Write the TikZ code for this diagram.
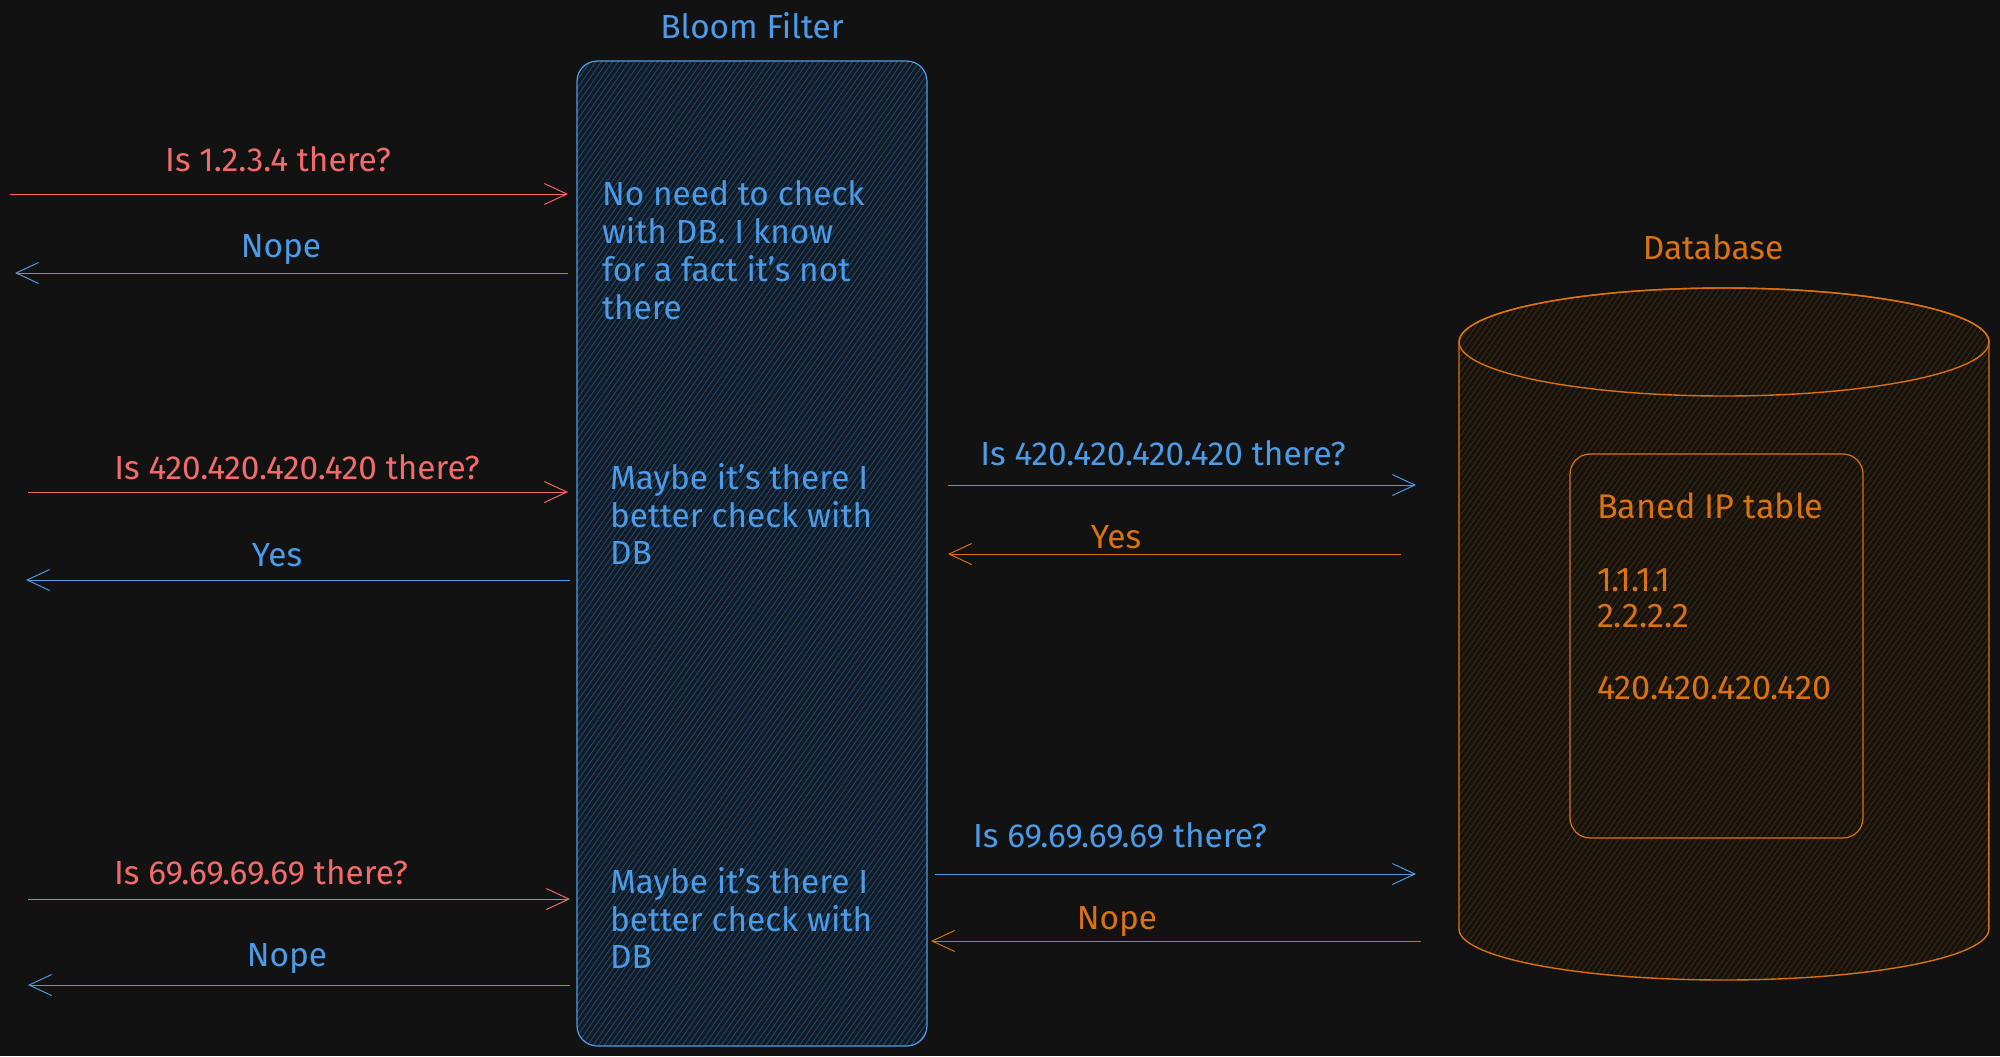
\documentclass[tikz,border=0pt]{standalone}
\usepackage{fontspec}
\setmainfont{Fira Sans}
\usetikzlibrary{positioning}
\usetikzlibrary{arrows.meta,patterns.meta,calc}
\definecolor{bgcol}{HTML}{121212}
\definecolor{sblue}{HTML}{4C9BE8}
\definecolor{sred}{HTML}{F26B6B}
\definecolor{sorange}{HTML}{D9720F}
\definecolor{bfill}{HTML}{131B24}
\definecolor{bhatch}{HTML}{1F4A73}
\definecolor{dfill}{HTML}{16120D}
\definecolor{dhatch}{HTML}{3D2A12}
\tikzset{
    %Define standard arrow tip
    >={Straight Barb[length=0.45cm,width=0.42cm]},
    % Define sketchy arrow style
    pil/.style={
           ->,
           line width=0.55pt,
           double=bgcol,
           double distance=0.7pt,}
}
\newcommand{\txtsize}{\fontsize{19}{21.6}\selectfont}

\begin{document}
\begin{tikzpicture}[x=0.02cm, y=-0.02cm, outer sep=0pt]
\tikzstyle{lbl}=[font=\txtsize, inner sep=0pt]
\tikzstyle{note}=[font=\txtsize, inner sep=0pt, anchor=west, align=left, text=sblue]
\tikzstyle{bloombox}=[draw=sblue, line width=0.7pt, rounded corners=0.4cm, minimum width=7cm, minimum height=19.7cm, preaction={fill=bfill}, pattern={Lines[angle=55,distance=2.6pt,line width=0.5pt]}, pattern color=bhatch]
\tikzstyle{tablebox}=[draw=sorange, line width=0.7pt, rounded corners=0.4cm, minimum width=5.86cm, minimum height=7.68cm, preaction={fill=dfill}, pattern={Lines[angle=55,distance=2.6pt,line width=0.5pt]}, pattern color=dhatch]

\useasboundingbox (0,0) rectangle (2000,1056);
\fill[bgcol] (0,0) rectangle (2000,1056);

% bloom filter
\node[bloombox] (bloom) at (752,553.5) {};
\node[lbl,sblue] (bloomname) [above = 0.45cm of bloom] {Bloom Filter};

\node[note] (note1) at (602,250) {No need to check\\with DB. I know\\for a fact it's not\\there};
\node[note] (note2) at (610,514) {Maybe it's there I\\better check with\\DB};
\node[note] (note3) at (610,918) {Maybe it's there I\\better check with\\DB};

% database
\path[draw=sorange, line width=0.8pt, preaction={fill=dfill}, pattern={Lines[angle=55,distance=2.6pt,line width=0.5pt]}, pattern color=dhatch]
    (1459,342) -- (1459,929) arc[start angle=180, end angle=360, x radius=5.3cm, y radius=1.02cm]
    -- (1989,342) arc[start angle=0, end angle=180, x radius=5.3cm, y radius=1.08cm] -- cycle;
\draw[sorange, line width=0.8pt] (1724,342) ellipse [x radius=5.3cm, y radius=1.08cm];
\node[lbl,sorange] (dbname) at (1713,247) {Database};

\node[tablebox] (iptable) at (1716.5,646) {};
\node[note,text=sorange,font=\fontsize{19.5}{20.6}\selectfont] (iplist) at (1597,596.5) {Baned IP table\\ \strut\\ 1.1.1.1\\ 2.2.2.2\\ \strut\\ 420.420.420.420};

% arrow ends
\coordinate (c1a) at (10,194);   \coordinate (c1b) at (568,194);
\coordinate (c2a) at (568,273);  \coordinate (c2b) at (15,273);
\coordinate (c3a) at (28,492);   \coordinate (c3b) at (568,492);
\coordinate (c4a) at (570,580);  \coordinate (c4b) at (26,580);
\coordinate (c5a) at (28,899);   \coordinate (c5b) at (570,899);
\coordinate (c6a) at (570,985);  \coordinate (c6b) at (28,985);
\coordinate (c7a) at (948,485);  \coordinate (c7b) at (1416,485);
\coordinate (c8a) at (1401,554); \coordinate (c8b) at (948,554);
\coordinate (c9a) at (935,874);  \coordinate (c9b) at (1416,874);
\coordinate (c10a) at (1421,941); \coordinate (c10b) at (931,941);

\path[pil,sred] (c1a) edge (c1b);
\path[pil,sblue] (c2a) edge (c2b);
\path[pil,sred] (c3a) edge (c3b);
\path[pil,sblue] (c4a) edge (c4b);
\path[pil,sred] (c5a) edge (c5b);
\path[pil,sblue] (c6a) edge (c6b);
\path[pil,sblue] (c7a) edge (c7b);
\path[pil,sorange] (c8a) edge (c8b);
\path[pil,sblue] (c9a) edge (c9b);
\path[pil,sorange] (c10a) edge (c10b);

% labels
\node[lbl,sred] (ask1) at (278,159) {Is 1.2.3.4 there?};
\node[lbl,sblue] (ans1) at (281,250) {Nope};
\node[lbl,sred] (ask2) at (297,467) {Is 420.420.420.420 there?};
\node[lbl,sblue] (ans2) at (277,555) {Yes};
\node[lbl,sred] (ask3) at (261,872) {Is 69.69.69.69 there?};
\node[lbl,sblue] (ans3) at (287,959) {Nope};
\node[lbl,sblue] (fwd2) at (1163,453) {Is 420.420.420.420 there?};
\node[lbl,sorange] (hit2) at (1116,537) {Yes};
\node[lbl,sblue] (fwd3) at (1120,835) {Is 69.69.69.69 there?};
\node[lbl,sorange] (miss3) at (1117,922) {Nope};

\end{tikzpicture}
\end{document}
